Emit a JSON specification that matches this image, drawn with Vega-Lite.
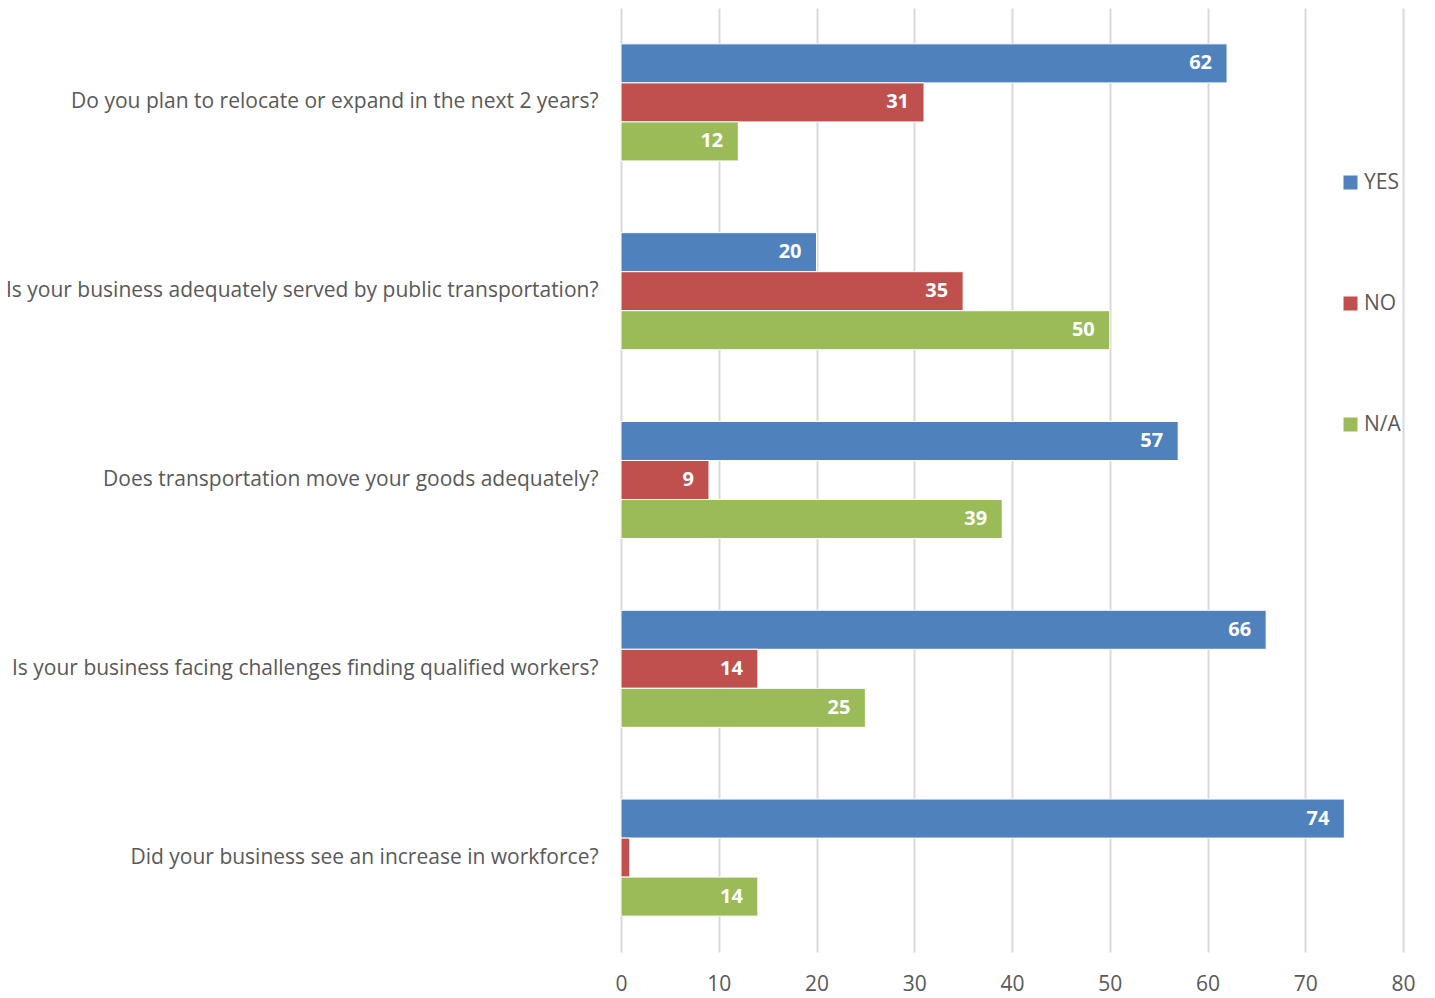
{
  "$schema": "https://vega.github.io/schema/vega-lite/v6.json",
  "width": 782,
  "height": 944,
  "autosize": {"type": "none"},
  "padding": {"left": 621, "top": 8, "right": 32, "bottom": 46},
  "config": {
    "view": {"stroke": null},
    "font": "Open Sans"
  },
  "data": {
    "values": [
      {"q": "Do you plan to relocate or expand in the next 2 years?", "answer": "YES", "value": 62},
      {"q": "Do you plan to relocate or expand in the next 2 years?", "answer": "NO", "value": 31},
      {"q": "Do you plan to relocate or expand in the next 2 years?", "answer": "N/A", "value": 12},
      {"q": "Is your business adequately served by public transportation?", "answer": "YES", "value": 20},
      {"q": "Is your business adequately served by public transportation?", "answer": "NO", "value": 35},
      {"q": "Is your business adequately served by public transportation?", "answer": "N/A", "value": 50},
      {"q": "Does transportation move your goods adequately?", "answer": "YES", "value": 57},
      {"q": "Does transportation move your goods adequately?", "answer": "NO", "value": 9},
      {"q": "Does transportation move your goods adequately?", "answer": "N/A", "value": 39},
      {"q": "Is your business facing challenges finding qualified workers?", "answer": "YES", "value": 66},
      {"q": "Is your business facing challenges finding qualified workers?", "answer": "NO", "value": 14},
      {"q": "Is your business facing challenges finding qualified workers?", "answer": "N/A", "value": 25},
      {"q": "Did your business see an increase in workforce?", "answer": "YES", "value": 74},
      {"q": "Did your business see an increase in workforce?", "answer": "NO", "value": 0.9},
      {"q": "Did your business see an increase in workforce?", "answer": "N/A", "value": 14}
    ]
  },
  "encoding": {
    "y": {
      "field": "q",
      "type": "nominal",
      "sort": null,
      "scale": {"paddingInner": 0.38, "paddingOuter": 0.19},
      "axis": {
        "title": null,
        "domain": false,
        "ticks": false,
        "labelFontSize": 21,
        "labelColor": "#595959",
        "labelPadding": 23,
        "labelLimit": 700
      }
    },
    "yOffset": {
      "field": "answer",
      "type": "nominal",
      "sort": ["YES", "NO", "N/A"]
    },
    "x": {
      "field": "value",
      "type": "quantitative",
      "scale": {"domain": [0, 80], "nice": false},
      "axis": {
        "title": null,
        "values": [0, 10, 20, 30, 40, 50, 60, 70, 80],
        "domain": false,
        "ticks": false,
        "grid": true,
        "gridColor": "#d9d9d9",
        "gridWidth": 2,
        "labelFontSize": 21,
        "labelColor": "#595959",
        "labelPadding": 21,
        "labelFlush": false
      }
    }
  },
  "layer": [
    {
      "mark": {"type": "bar", "stroke": "white", "strokeWidth": 1},
      "encoding": {
        "color": {
          "field": "answer",
          "type": "nominal",
          "sort": ["YES", "NO", "N/A"],
          "scale": {"domain": ["YES", "NO", "N/A"], "range": ["#4F81BD", "#C0504D", "#9BBB59"]},
          "legend": {
            "title": null,
            "orient": "none",
            "legendX": 719,
            "legendY": 164,
            "symbolType": "square",
            "symbolSize": 196,
            "symbolStrokeWidth": 0,
            "labelFontSize": 21,
            "labelColor": "#595959",
            "labelOffset": 3,
            "rowPadding": 99
          }
        }
      }
    },
    {
      "transform": [{"filter": "datum.value >= 2"}],
      "mark": {"type": "text", "align": "right", "dx": -15, "fontWeight": "bold", "fontSize": 20, "color": "white", "baseline": "middle"},
      "encoding": {
        "text": {"field": "value", "type": "quantitative"}
      }
    }
  ]
}
